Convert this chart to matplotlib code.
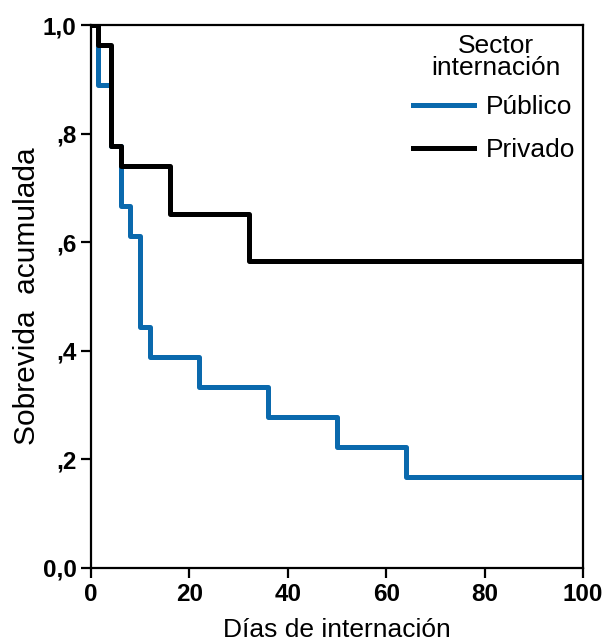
import matplotlib
matplotlib.use("Agg")
import matplotlib.pyplot as plt

plt.rcParams['font.family'] = ['Liberation Sans', 'DejaVu Sans']

# Kaplan-Meier step data (time, survival)
publico_t = [0, 1.5, 4, 6, 8, 10, 12, 22, 36, 50, 64, 100]
publico_s = [1.0, 0.889, 0.778, 0.667, 0.611, 0.444, 0.389, 0.333, 0.278, 0.222, 0.167, 0.167]
privado_t = [0, 1.5, 4, 6, 16, 32, 100]
privado_s = [1.0, 0.963, 0.778, 0.741, 0.652, 0.565, 0.565]

yticks = [0.0, 0.2, 0.4, 0.6, 0.8, 1.0]
ytick_labels = ['0,0', ',2', ',4', ',6', ',8', '1,0']
xticks = [0, 20, 40, 60, 80, 100]
xtick_labels = ['0', '20', '40', '60', '80', '100']

fig = plt.figure(figsize=(6.03, 6.42), dpi=100)
ax = fig.add_axes([0.151, 0.1153, 0.816, 0.8457])

ax.step(publico_t, publico_s, where='post', color='#0a69ad', lw=3.6, label='Público', zorder=2)
ax.step(privado_t, privado_s, where='post', color='black', lw=3.6, label='Privado', zorder=3)

tickfont = dict(family=['Liberation Sans', 'DejaVu Sans'], size=17.5, weight='bold')
ax.set_xlim(0, 100)
ax.set_ylim(0, 1.0)
ax.set_xticks(xticks)
ax.set_xticklabels(xtick_labels, fontdict=tickfont)
ax.set_yticks(yticks)
ax.set_yticklabels(ytick_labels, fontdict=tickfont)
ax.tick_params(direction='out', length=7, width=1.6, pad=3.5)
for s in ax.spines.values():
    s.set_linewidth(1.6)

ax.set_xlabel('Días de internación', fontsize=19, labelpad=9)
ax.set_ylabel('Sobrevida  acumulada', fontsize=21.5, labelpad=1)

leg = ax.legend(loc='upper right', bbox_to_anchor=(1.0, 0.886),
                frameon=False, fontsize=19, handlelength=2.3,
                handletextpad=0.45, labelspacing=0.72,
                borderpad=0.2, borderaxespad=0.1)

ax.text(0.823, 0.908, 'Sector\ninternación', transform=ax.transAxes,
        ha='center', va='baseline', multialignment='center',
        fontsize=19, linespacing=0.9)

fig.savefig('out.png', dpi=100)
